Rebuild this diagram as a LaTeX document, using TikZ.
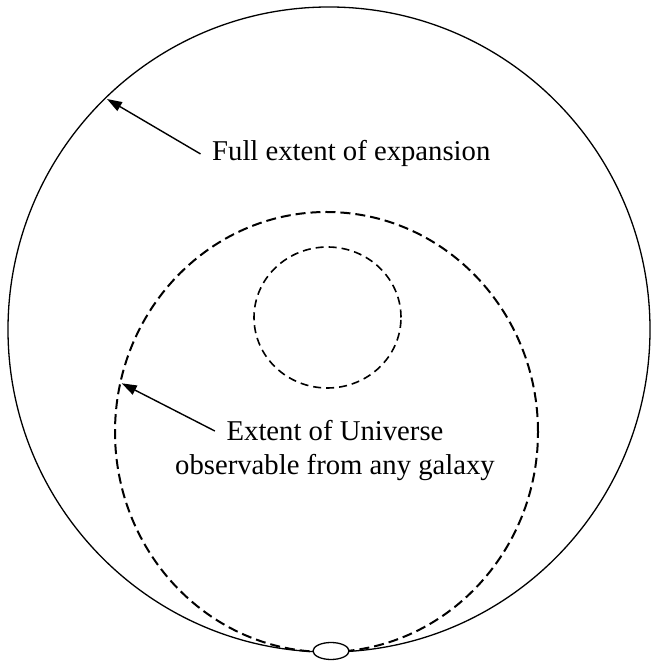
\documentclass[tikz,border=0pt]{standalone}
\usepackage{fontspec}
\setmainfont{Liberation Serif}
\usepackage{tikz}
\usetikzlibrary{shapes.geometric,arrows.meta,positioning,calc}

\begin{document}
\begin{tikzpicture}[
  x=1pt, y=1pt,
  bound/.style={draw=black, line width=1.3pt},
  horizon/.style={draw=black, line width=2pt, dash pattern=on 10pt off 5pt},
  inner/.style={draw=black, line width=1.6pt, dash pattern=on 8pt off 5pt},
  galaxy/.style={draw=black, fill=white, line width=1.3pt},
  lbl/.style={inner ysep=0pt, inner xsep=11.5pt, font=\fontsize{28.7}{33.5}\selectfont},
  arr/.style={-{Triangle[length=15pt,width=10pt]}, line width=1.4pt, black}
]
\useasboundingbox (0,0) rectangle (651,663);

% --- Circles
\draw[bound]   (329,333.5) ellipse [x radius=321, y radius=322.5];
\draw[horizon] (326.5,231) ellipse [x radius=211.5, y radius=220];
\draw[inner]   (327.5,345.5) ellipse [x radius=73.5, y radius=70.5];
\draw[galaxy]  (331,12) ellipse [x radius=18, y radius=8.5];

% --- Labels
\node[lbl, anchor=base west] (full) at (200.5,502) {Full extent of expansion};
\node[lbl, anchor=base] (ext) at (335,222) {Extent of Universe};
\node[lbl, anchor=base] (obs) at (335,188.5) {observable from any galaxy};

% --- Pointers
\coordinate (edgept) at (107,564);
\coordinate (horpt)  at (121.7,279.7);
\draw[arr] (full.west) -- (edgept);
\draw[arr] (ext.west)  -- (horpt);

\end{tikzpicture}
\end{document}
